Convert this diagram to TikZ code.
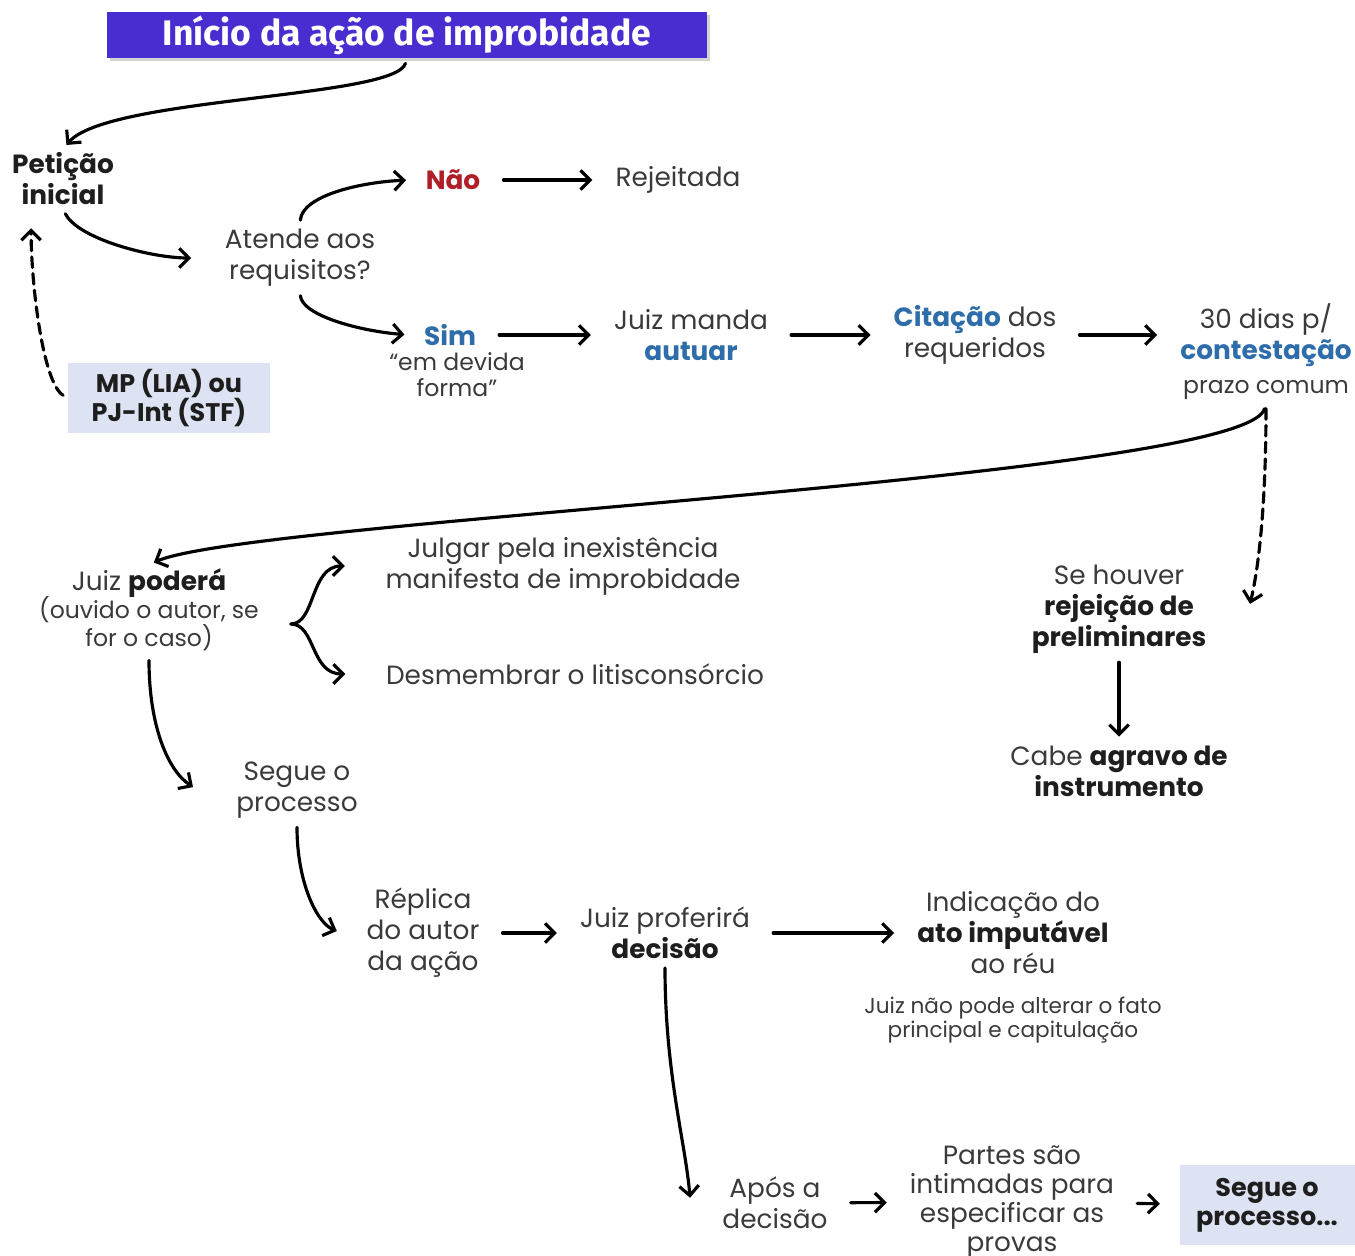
\documentclass[tikz,border=0pt]{standalone}
\usepackage{fontspec}
\setmainfont{Poppins}
\newfontfamily\ttlfont{Fira Sans}
\usepackage{tikz}
\usetikzlibrary{arrows.meta,positioning,shadows}
\definecolor{ink}{HTML}{3A3A3A}
\definecolor{inkdark}{HTML}{1E1E1E}
\definecolor{ttlblue}{HTML}{4A2DD0}
\definecolor{lnkblue}{HTML}{2F6DAA}
\definecolor{nored}{HTML}{B01E28}
\definecolor{boxgray}{HTML}{DDE3F2}
\newcommand{\bd}[1]{{\bfseries\color{inkdark}#1}}
\newcommand{\hl}[1]{{\bfseries\color{lnkblue}#1}}
\tikzset{
  txt/.style={align=center,text=ink,inner sep=2pt,font=\fontsize{15}{17.6}\selectfont},
  note/.style={align=center,text=ink,inner sep=2pt,font=\fontsize{13.4}{14.7}\selectfont},
  fine/.style={align=center,text=ink,inner sep=2pt,font=\fontsize{12.3}{13.6}\selectfont},
  hbox/.style={fill=boxgray,align=center,text=inkdark,inner sep=2pt,font=\fontsize{14.5}{16.4}\selectfont\bfseries},
  ttl/.style={fill=ttlblue,text=white,minimum width=12cm,minimum height=0.92cm,inner sep=0pt,
    font=\ttlfont\fontsize{20.2}{21}\selectfont\bfseries,
    drop shadow={shadow xshift=1.5pt,shadow yshift=-1.5pt,opacity=0.35}},
  arr/.style={-{Straight Barb[length=5.5pt,width=11pt]},line width=1.8pt,line cap=round,shorten <=3pt,shorten >=3pt},
  harr/.style={arr,shorten <=11pt,shorten >=11pt},
  darr/.style={arr,dash pattern=on 6pt off 3.5pt},
}
\begin{document}
\begin{tikzpicture}[x=0.02cm,y=-0.02cm]
\useasboundingbox (0,0) rectangle (1355,1256);
% inicio
\node[ttl] (title) at (407,35) {Início da ação de improbidade};
\node[txt] (pet) at (63,179) {\bd{Petição}\\\bd{inicial}};
\node[txt] (atende) at (300,258) {Atende aos\\requisitos?};
\node[txt] (nao) at (453,180) {\textbf{\color{nored}Não}};
\node[txt] (rej) at (678,180) {Rejeitada};
\node[txt] (sim) at (450,335) {\hl{Sim}};
\node[note] (devida) at (457,375) {“em devida\\forma”};
\node[txt] (manda) at (691,335) {Juiz manda\\\hl{autuar}};
\node[txt] (cit) at (975,335) {\hl{Citação} dos\\requeridos};
\node[txt] (dias) at (1266,335) {30 dias p/\\\hl{contestação}};
\node[note] (prazo) at (1266,390) {prazo comum};
\node[hbox,minimum width=4.04cm,minimum height=1.4cm] (mp) at (169,398) {MP (LIA) ou\\PJ-Int (STF)};
% juiz podera
\node[txt] (poder) at (149,583) {Juiz \bd{poderá}};
\node[note] (ouvido) at (149,624) {(ouvido o autor, se\\for o caso)};
\node[txt] (julgar) at (563,566) {Julgar pela inexistência\\manifesta de improbidade};
\node[txt] (desm) at (575,674) {Desmembrar o litisconsórcio};
\node[txt] (segue) at (297,790) {Segue o\\processo};
\node[txt] (houver) at (1119,609) {Se houver\\\bd{rejeição de}\\\bd{preliminares}};
\node[txt] (agravo) at (1119,771) {Cabe \bd{agravo de}\\\bd{instrumento}};
% decisao
\node[txt] (replica) at (423,933) {Réplica\\do autor\\da ação};
\node[txt] (proferir) at (665,933) {Juiz proferirá\\\bd{decisão}};
\node[txt] (indic) at (1013,933) {Indicação do\\\bd{ato imputável}\\ao réu};
\node[fine] (nota) at (1013,1020) {Juiz não pode alterar o fato\\principal e capitulação};
\node[txt] (apos) at (775,1203) {Após a\\decisão};
\node[txt,font=\fontsize{15}{16.4}\selectfont] (partes) at (1012,1202) {Partes são\\intimadas para\\especificar as\\provas};
\node[hbox,minimum width=3.5cm,minimum height=1.6cm] (fim) at (1267,1205) {Segue o\\processo...};
% setas
\draw[arr] (title.south) .. controls +(-12,40) and +(44,-52) .. (pet.north);
\draw[arr] (pet.south) .. controls +(15,30) and +(-45,0) .. ([xshift=-14pt]atende.west);
\draw[arr] (atende.north) .. controls +(2,-30) and +(-50,2) .. ([xshift=-6pt]nao.west);
\draw[arr] (atende.south) .. controls +(2,25) and +(-50,-4) .. ([xshift=-6pt]sim.west);
\draw[darr] (mp.west) .. controls +(-25,-15) and +(0,60) .. ([xshift=13pt,yshift=-8pt]pet.south west);
\draw[harr] (nao) -- (rej);
\draw[harr] (sim) -- (manda);
\draw[harr] (manda) -- (cit);
\draw[harr] (cit) -- (dias);
\draw[arr] (prazo.south) .. controls +(-20,75) and +(101,-45) .. (poder.north);
\draw[darr] (prazo.south) .. controls +(0,85) and +(12,-50) .. ([xshift=22pt]houver.east);
\draw[arr] ([xshift=13pt]ouvido.east) .. controls +(30,0) and +(-40,0) .. ([xshift=-18pt]julgar.west);
\draw[arr] ([xshift=13pt]ouvido.east) .. controls +(30,0) and +(-40,0) .. ([xshift=-18pt]desm.west);
\draw[arr] (ouvido.south) .. controls +(0,70) and +(-30,-20) .. ([xshift=-20pt]segue.west);
\draw[arr] (segue.south) .. controls +(0,60) and +(-25,-10) .. ([xshift=-12pt]replica.west);
\draw[arr] (houver) -- (agravo);
\draw[harr] (replica) -- (proferir);
\draw[harr] (proferir) -- (indic);
\draw[arr] (proferir.south) .. controls +(0,110) and +(-5,-60) .. ([xshift=-16pt]apos.west);
\draw[harr] (apos) -- (partes);
\draw[harr] (partes) -- (fim);
\end{tikzpicture}
\end{document}
